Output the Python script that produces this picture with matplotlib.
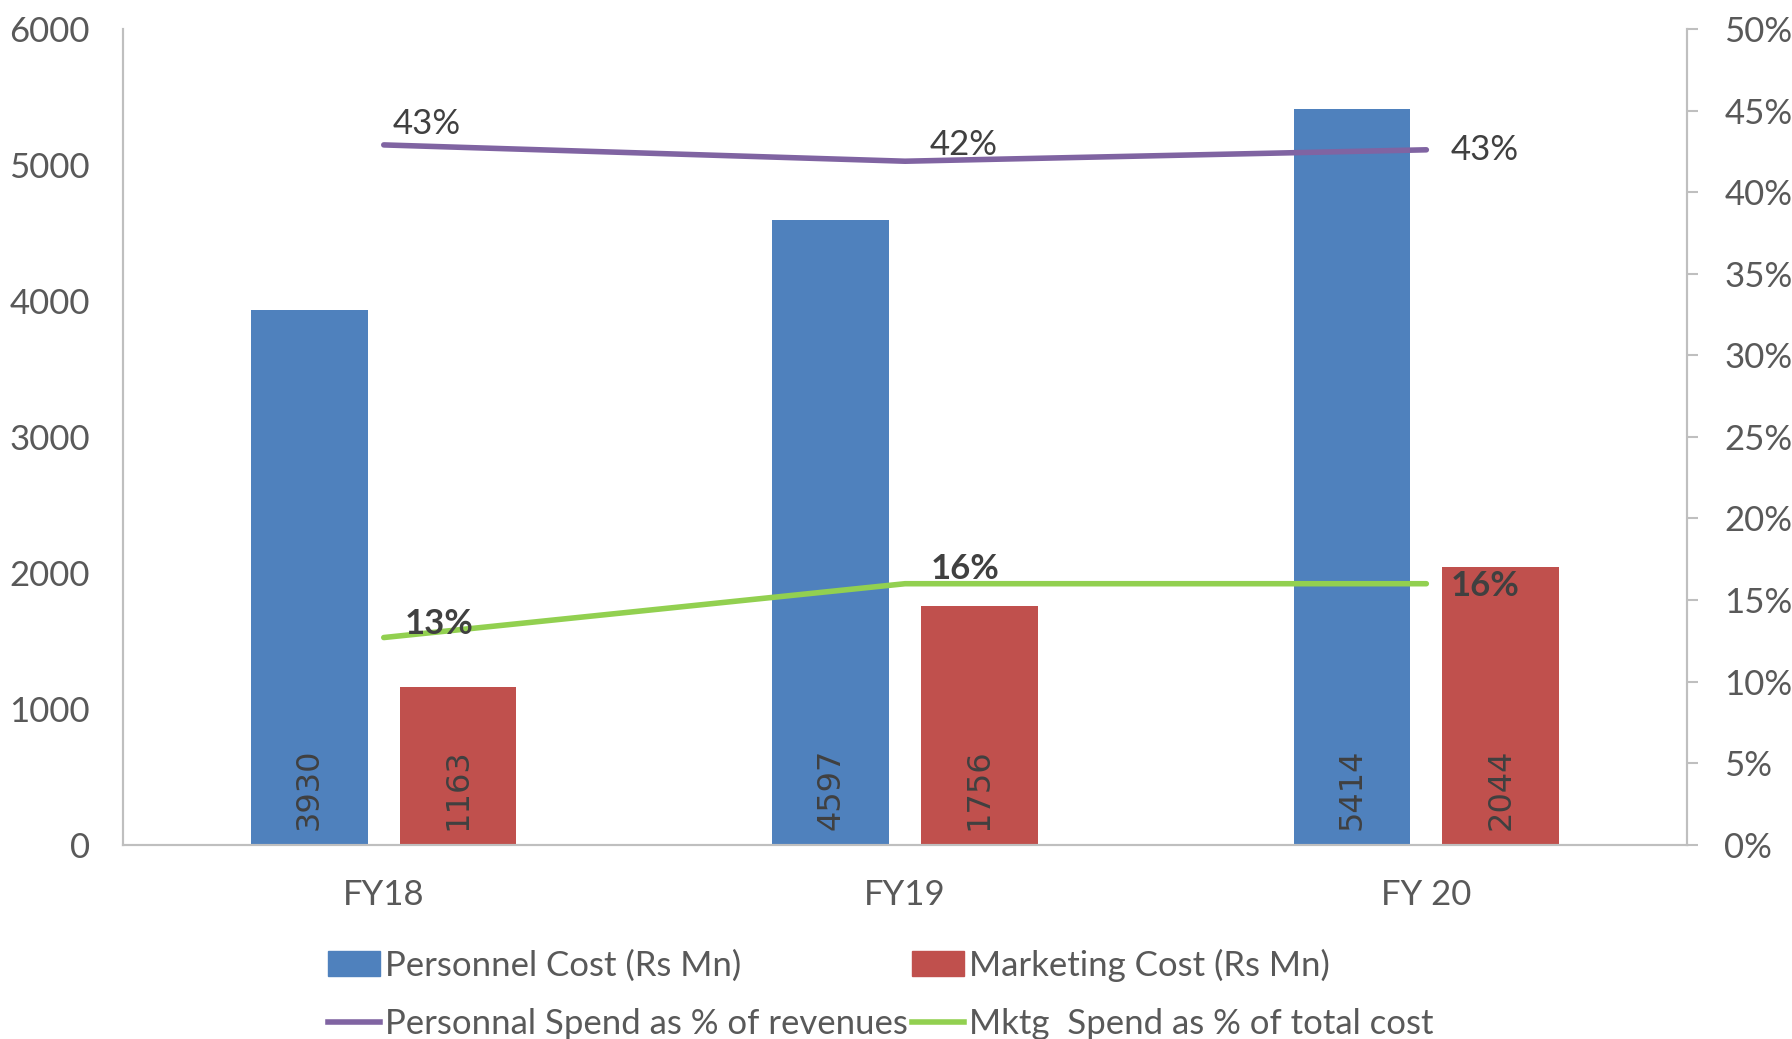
import matplotlib.pyplot as plt
import numpy as np
from matplotlib.lines import Line2D
from matplotlib.patches import Patch

categories = ["FY18", "FY19", "FY 20"]
personnel_cost = [3930, 4597, 5414]
marketing_cost = [1163, 1756, 2044]
personnel_pct = [42.9, 41.9, 42.6]
mktg_pct = [12.7, 16.0, 16.0]
personnel_pct_labels = ["43%", "42%", "43%"]
mktg_pct_labels = ["13%", "16%", "16%"]

plt.rcParams["font.family"] = ["Lato", "DejaVu Sans"]

blue = "#4F81BD"
red = "#C0504D"
purple = "#8064A2"
green = "#92D050"
tick_col = "#595959"
lab_col = "#404040"
spine_col = "#BFBFBF"
fs = 25

fig = plt.figure(figsize=(17.92, 10.39), dpi=100)
ax = fig.add_axes([0.0687, 0.187, 0.8727, 0.785])
ax2 = ax.twinx()

x = np.arange(len(categories))
w = 0.224
off = 0.1425
b1 = ax.bar(x - off, personnel_cost, w, color=blue, zorder=2)
b2 = ax.bar(x + off, marketing_cost, w, color=red, zorder=2)

# value labels inside the bars, rotated
for bars, vals in ((b1, personnel_cost), (b2, marketing_cost)):
    for rect, v in zip(bars, vals):
        ax.text(rect.get_x() + rect.get_width() / 2, 110, str(v), rotation=90,
                ha="center", va="bottom", fontsize=23, color=lab_col,
                family="DejaVu Sans")

ax.set_xlim(-0.5, 2.5)
ax.set_ylim(0, 6000)
ax.set_yticks(range(0, 6001, 1000))
ax.set_xticks(x)
ax.set_xticklabels(categories)
ax.tick_params(axis="y", length=0, labelsize=fs, colors=tick_col, pad=24)
ax.tick_params(axis="x", length=0, labelsize=fs, colors=tick_col, pad=25)

ax2.plot(x, personnel_pct, color=purple, lw=4, solid_capstyle="round", zorder=3)
ax2.plot(x, mktg_pct, color=green, lw=4, solid_capstyle="round", zorder=3)
ax2.set_ylim(0, 50)
ax2.set_yticks(range(0, 51, 5))
ax2.set_yticklabels([f"{v}%" for v in range(0, 51, 5)])
ax2.tick_params(axis="y", length=8, width=1.5, labelsize=fs, labelcolor=tick_col,
                color=spine_col, pad=19)

p_off = [(9, 21), (25, 16), (24, 0)]
m_off = [(21, 14), (26, 15), (24, -2)]
for i in range(3):
    ax2.annotate(personnel_pct_labels[i], (x[i], personnel_pct[i]), xytext=p_off[i],
                 textcoords="offset pixels", ha="left", va="center", fontsize=fs,
                 color=lab_col)
    ax2.annotate(mktg_pct_labels[i], (x[i], mktg_pct[i]), xytext=m_off[i],
                 textcoords="offset pixels", ha="left", va="center", fontsize=fs,
                 color=lab_col, fontweight="bold")

for a in (ax, ax2):
    a.spines["top"].set_visible(False)
    for s in ("left", "right", "bottom"):
        a.spines[s].set_color(spine_col)
        a.spines[s].set_linewidth(1.5)

handles = [Patch(color=blue), Patch(color=red),
           Line2D([], [], color=purple, lw=4), Line2D([], [], color=green, lw=4)]
labels = ["Personnel Cost (Rs Mn)", "Marketing Cost (Rs Mn)",
          "Personnal Spend as % of revenues", "Mktg  Spend as % of total cost"]
order = [0, 2, 1, 3]
fig.legend([handles[i] for i in order], [labels[i] for i in order], ncol=2,
           loc="upper left", bbox_to_anchor=(0.183, 0.087), frameon=False,
           fontsize=fs, labelcolor=tick_col, handlelength=1.5, handleheight=0.7,
           handletextpad=0.15, columnspacing=0.1, labelspacing=0.75,
           borderaxespad=0, borderpad=0)

fig.savefig("out.png", dpi=100)
